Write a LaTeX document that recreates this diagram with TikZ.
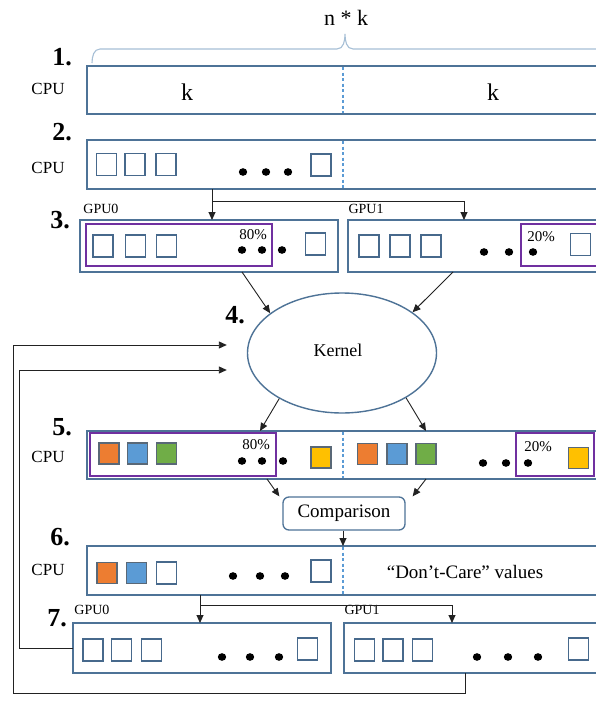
\documentclass[tikz,border=0pt]{standalone}
\usepackage{fontspec}
\setmainfont{Liberation Serif}
\usetikzlibrary{arrows.meta,calc,shapes.geometric}
\definecolor{bx}{HTML}{4E7397}
\definecolor{sqc}{HTML}{47698C}
\definecolor{csq}{HTML}{596877}
\definecolor{dv}{HTML}{5B9BD5}
\definecolor{pu}{HTML}{7030A0}
\definecolor{corange}{HTML}{ED7D31}
\definecolor{cblue}{HTML}{5B9BD5}
\definecolor{cgreen}{HTML}{70AD47}
\definecolor{cyellow}{HTML}{FFC000}
\definecolor{brc}{HTML}{A6BFD6}
\definecolor{ln}{HTML}{222222}
\begin{document}
\begin{tikzpicture}[x=1pt,y=-1pt,
  box/.style={draw=bx,line width=1.5pt,anchor=north west,inner sep=0pt,outer sep=0pt},
  pbox/.style={draw=pu,line width=1.4pt,anchor=north west,inner sep=0pt,outer sep=0pt},
  sq/.style={draw=sqc,line width=1.7pt,minimum width=20pt,minimum height=22pt,inner sep=0pt},
  fsq/.style={draw=csq,line width=1.5pt,minimum width=20pt,minimum height=21pt,inner sep=0pt,fill=#1},
  num/.style={font=\fontsize{26}{26}\selectfont\bfseries,inner sep=0pt},
  cpu/.style={font=\fontsize{17}{17}\selectfont,inner sep=0pt},
  gpu/.style={font=\fontsize{14}{14}\selectfont,inner sep=0pt},
  pct/.style={font=\fontsize{15}{15}\selectfont,inner sep=0pt},
  big/.style={font=\fontsize{24}{24}\selectfont,inner sep=0pt},
  mid/.style={font=\fontsize{19}{19}\selectfont,inner sep=0pt},
  divl/.style={draw=dv,line width=2.6pt,dash pattern=on 3pt off 2.5pt},
  arr/.style={draw=ln,line width=0.9pt,-{Triangle[length=8pt,width=7pt]}},
  lin/.style={draw=ln,line width=0.9pt}
]
\useasboundingbox (0,0) rectangle (596,704);
\clip (0,0) rectangle (596,704);
\fill[white] (0,0) rectangle (596,704);

% brace and n*k
\draw[brc,line width=1.1pt] (92,63) to[out=90,in=180] (100,49) -- (337,49) to[out=0,in=-90] (345,34) to[out=-90,in=180] (353,49) -- (600,49);
\node[inner sep=0pt,font=\fontsize{22}{22}\selectfont] (nk) at (346,18) {n * k};

% row labels
\node[num] (n1) at (62,57) {1.};
\node[num] (n2) at (62,132) {2.};
\node[num] (n3) at (60,220) {3.};
\node[num] (n4) at (235,315) {4.};
\node[num] (n5) at (62,427) {5.};
\node[num] (n6) at (60,537) {6.};
\node[num] (n7) at (57,618) {7.};

\node[cpu] (c1) at (48,89) {CPU};
\node[cpu] (c2) at (48,168) {CPU};
\node[cpu] (c5) at (48,457) {CPU};
\node[cpu] (c6) at (48,570) {CPU};

% row 1
\node[box,minimum width=513pt,minimum height=48pt] (b1) at (87,66) {};
\draw[divl] (343,67) -- (343,113);
\node[big] (k1) at (187,92) {k};
\node[big] (k2) at (493,92) {k};

% row 2
\node[box,minimum width=513pt,minimum height=49pt] (b2) at (87,140) {};
\draw[divl] (343,141) -- (343,188);
\node[sq] (s21) at (106.5,164.5) {};
\node[sq] (s22) at (135,164.5) {};
\node[sq] (s23) at (166,164.5) {};
\node[sq] (s24) at (321,165) {};
\fill (243,172) ellipse (4.2 and 3.8);
\fill (266,172) ellipse (4.2 and 3.8);
\fill (288,172) ellipse (4.2 and 3.8);

% row 3
\node[gpu] (gl0) at (101,209) {GPU0};
\node[gpu] (gl1) at (366,209) {GPU1};
\node[box,minimum width=258pt,minimum height=52pt] (g0) at (80,220) {};
\node[box,minimum width=252pt,minimum height=52pt] (g1) at (348,220) {};
\node[pbox,minimum width=186pt,minimum height=42pt] (p0) at (86,224) {};
\node[pbox,minimum width=79pt,minimum height=42pt] (p1) at (521,224) {};
\node[sq] (s31) at (103,246) {};
\node[sq] (s32) at (135.5,246) {};
\node[sq] (s33) at (166.5,246) {};
\node[sq] (s34) at (315.5,244) {};
\node[pct] (pc0) at (253,235) {80\%};
\fill (242,250) ellipse (4.2 and 3.8);
\fill (262,250) ellipse (4.2 and 3.8);
\fill (282,250) ellipse (4.2 and 3.8);
\node[sq] (s35) at (369,246) {};
\node[sq] (s36) at (400,246) {};
\node[sq] (s37) at (431,246) {};
\node[sq] (s38) at (580.5,244.5) {};
\node[pct] (pc1) at (541,237) {20\%};
\fill (484,252) ellipse (4.2 and 3.8);
\fill (509,252) ellipse (4.2 and 3.8);
\fill (533,252) ellipse (4.2 and 3.8);

% arrows 2 -> 3
\coordinate (j1) at (212,201);
\coordinate (j2) at (464,201);
\draw[arr] (b2.south -| j1) -- (j1 |- g0.north);
\draw[arr] (j1) -- (j2) -- (j2 |- g1.north);

% kernel
\node[ellipse,draw=bx,line width=1.4pt,minimum width=189pt,minimum height=120pt,inner sep=0pt] (kern) at (342,353) {};
\node[font=\fontsize{18}{18}\selectfont,inner sep=0pt] (kt) at (338,350) {Kernel};
\draw[arr] ($(g0.south west)+(162,0)$) -- (kern.151);
\draw[arr] ($(g1.south west)+(105,0)$) -- (kern.30);

% row 5
\node[box,minimum width=513pt,minimum height=48pt] (b5) at (87,431) {};
\draw[divl] (343,432) -- (343,478);
\node[pbox,minimum width=186pt,minimum height=43pt] (p2) at (90,433) {};
\node[pbox,minimum width=78pt,minimum height=43pt] (p3) at (516,433) {};
\node[fsq=corange] (s51) at (109,453.5) {};
\node[fsq=cblue] (s52) at (137.5,453.5) {};
\node[fsq=cgreen] (s53) at (166.5,453.5) {};
\node[fsq=cyellow] (s54) at (321,457.5) {};
\node[pct] (pc2) at (256,445) {80\%};
\fill (242,461) ellipse (4.2 and 3.8);
\fill (262,461) ellipse (4.2 and 3.8);
\fill (283,461) ellipse (4.2 and 3.8);
\node[fsq=corange] (s55) at (367.5,454) {};
\node[fsq=cblue] (s56) at (397,454) {};
\node[fsq=cgreen] (s57) at (426,454) {};
\node[fsq=cyellow] (s58) at (578.5,458) {};
\node[pct] (pc3) at (538,447) {20\%};
\fill (483,463) ellipse (4.2 and 3.8);
\fill (506,463) ellipse (4.2 and 3.8);
\fill (528,463) ellipse (4.2 and 3.8);
\draw[arr] (kern.216) -- ($(b5.north west)+(173,0)$);
\draw[arr] (kern.325) -- ($(b5.north west)+(339,0)$);

% comparison
\node[draw=bx,line width=1.3pt,rounded corners=6pt,minimum width=122pt,minimum height=33pt,inner sep=0pt,font=\fontsize{19}{19}\selectfont] (comp) at (344,513.5) {Comparison};
\draw[arr] ($(b5.south west)+(180,0)$) -- ($(comp.north west)+(-3,0)$);
\draw[arr] ($(b5.south west)+(339,0)$) -- ($(comp.north east)+(7,0)$);

% row 6
\node[box,minimum width=513pt,minimum height=49pt] (b6) at (87,546) {};
\draw[divl] (343,547) -- (343,594);
\draw[arr] (comp.south -| 343,0) -- (b6.north -| 343,0);
\node[fsq=corange] (s61) at (107,573) {};
\node[fsq=cblue] (s62) at (136.5,573) {};
\node[sq] (s63) at (166.5,573) {};
\node[sq] (s64) at (321,571) {};
\fill (233,576) ellipse (4.2 and 3.8);
\fill (260,576) ellipse (4.2 and 3.8);
\fill (285,576) ellipse (4.2 and 3.8);
\node[mid] (dc) at (465,572) {“Don’t-Care” values};

% row 7
\node[gpu] (hl0) at (92,610) {GPU0};
\node[gpu] (hl1) at (362,610) {GPU1};
\node[box,minimum width=258pt,minimum height=50pt] (h0) at (73,623) {};
\node[box,minimum width=256pt,minimum height=50pt] (h1) at (344,623) {};
\node[sq] (s71) at (93,650) {};
\node[sq] (s72) at (121.5,650) {};
\node[sq] (s73) at (151.5,650) {};
\node[sq] (s74) at (307.5,649) {};
\fill (222,657) ellipse (4.2 and 3.8);
\fill (250,657) ellipse (4.2 and 3.8);
\fill (279,657) ellipse (4.2 and 3.8);
\node[sq] (s75) at (364.5,650) {};
\node[sq] (s76) at (393,650) {};
\node[sq] (s77) at (422.5,650) {};
\node[sq] (s78) at (578.5,649) {};
\fill (477,657) ellipse (4.2 and 3.8);
\fill (508,657) ellipse (4.2 and 3.8);
\fill (538,657) ellipse (4.2 and 3.8);

\coordinate (t1) at (200,605);
\coordinate (t2) at (452,605);
\draw[arr] (b6.south -| t1) -- (t1 |- h0.north);
\draw[arr] (t1) -- (t2) -- (t2 |- h1.north);

% feedback loops
\draw[arr] (h0.west) -- (19,648) |- ($(kern.west)+(-20,17)$);
\draw[arr] ($(h1.south west)+(121,0)$) |- (13,693) |- ($(kern.west)+(-20,-8)$);
\end{tikzpicture}
\end{document}
